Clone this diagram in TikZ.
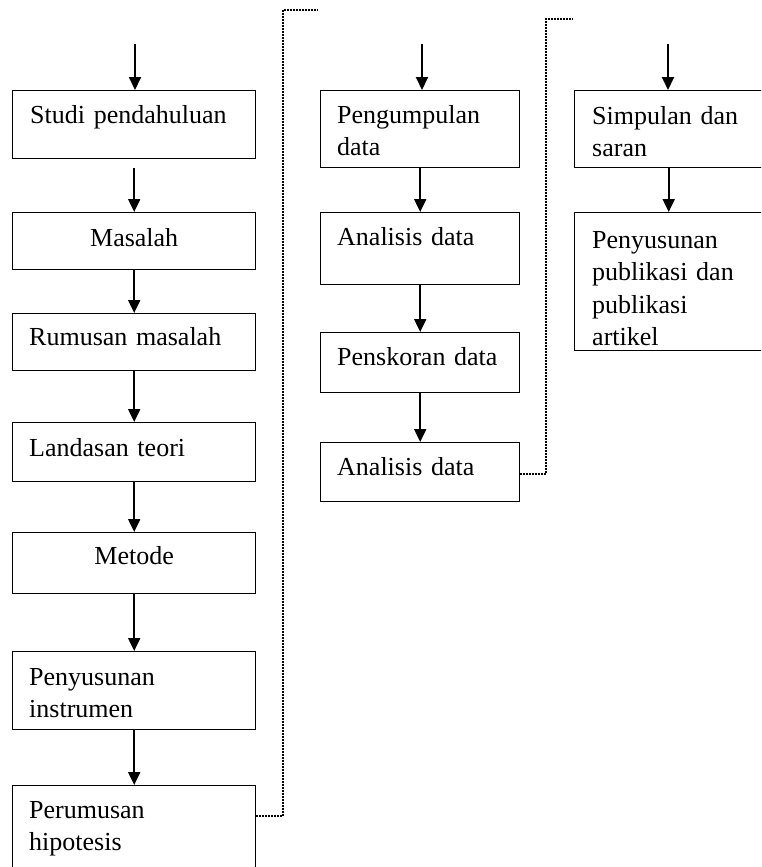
\documentclass[tikz,border=0pt]{standalone}
\usepackage{fontspec}
\setmainfont{Liberation Serif}
\usetikzlibrary{arrows.meta}

\tikzset{
  stagebox/.style={draw, line width=1.4pt, anchor=north west, inner sep=0pt,
    minimum width=#1},
  stagetext/.style={anchor=base west, inner sep=0pt, align=left, text width=230pt},
  midtext/.style={anchor=base, inner sep=0pt, align=center},
  flow/.style={-{Triangle[width=12pt,length=13pt]}, line width=2pt},
  jump/.style={line width=1.5pt, dash pattern=on 1.5pt off 1.5pt}
}

\begin{document}
\begin{tikzpicture}[x=1pt, y=-1pt, font=\fontsize{26}{32.5}\selectfont]
\clip (0,0) rectangle (761,867);
\fill[white] (0,0) rectangle (761,867);

% left column
\node[stagebox=243pt, minimum height=68pt] (studi) at (12,90) {};
\node[stagebox=243pt, minimum height=57pt] (masalah) at (12,212) {};
\node[stagebox=243pt, minimum height=57pt] (rumusan) at (12,313) {};
\node[stagebox=243pt, minimum height=59pt] (landasan) at (12,422) {};
\node[stagebox=243pt, minimum height=61pt] (metode) at (12,532) {};
\node[stagebox=243pt, minimum height=78pt] (instrumen) at (12,651) {};
\node[stagebox=243pt, minimum height=100pt] (hipotesis) at (12,785) {};

\node[stagetext] (studi-t) at ([shift={(18,33)}]studi.north west) {Studi pendahuluan};
\node[midtext] (masalah-t) at ([shift={(0,34)}]masalah.north) {Masalah};
\node[stagetext] (rumusan-t) at ([shift={(17,32)}]rumusan.north west) {Rumusan masalah};
\node[stagetext] (landasan-t) at ([shift={(17,34)}]landasan.north west) {Landasan teori};
\node[midtext] (metode-t) at ([shift={(0,32)}]metode.north) {Metode};
\node[stagetext] (instrumen-t) at ([shift={(17,34)}]instrumen.north west) {Penyusunan\\instrumen};
\node[stagetext] (hipotesis-t) at ([shift={(17,33)}]hipotesis.north west) {Perumusan\\hipotesis};

% middle column
\node[stagebox=199pt, minimum height=77pt] (kumpul) at (320,90) {};
\node[stagebox=199pt, minimum height=72pt] (analisis) at (320,212) {};
\node[stagebox=199pt, minimum height=60pt] (skor) at (320,332) {};
\node[stagebox=199pt, minimum height=59pt] (analisisb) at (320,442) {};

\node[stagetext] (kumpul-t) at ([shift={(17,33)}]kumpul.north west) {Pengumpulan\\data};
\node[stagetext] (analisis-t) at ([shift={(17,33)}]analisis.north west) {Analisis data};
\node[stagetext] (skor-t) at ([shift={(17,33)}]skor.north west) {Penskoran data};
\node[stagetext] (analisisb-t) at ([shift={(17,33)}]analisisb.north west) {Analisis data};

% right column
\node[stagebox=188pt, minimum height=77pt] (simpulan) at (574,90) {};
\node[stagebox=188pt, minimum height=138pt] (publikasi) at (574,212) {};

\node[stagetext] (simpulan-t) at ([shift={(18,34)}]simpulan.north west) {Simpulan dan\\saran};
\node[stagetext] (publikasi-t) at ([shift={(18,36)}]publikasi.north west) {Penyusunan\\publikasi dan\\publikasi\\artikel};

% arrows
\coordinate (in-a) at (135,44);
\coordinate (in-b) at (422,44);
\coordinate (in-c) at (668,44);
\draw[flow] (in-a) -- (in-a |- studi.north);
\draw[flow] (in-b) -- (in-b |- kumpul.north);
\draw[flow] (in-c) -- (in-c |- simpulan.north);

\draw[flow] ([yshift=-9pt]studi.south) -- (masalah.north);
\draw[flow] (masalah.south) -- (rumusan.north);
\draw[flow] (rumusan.south) -- (landasan.north);
\draw[flow] (landasan.south) -- (metode.north);
\draw[flow] (metode.south) -- (instrumen.north);
\draw[flow] (instrumen.south) -- (hipotesis.north);

\draw[flow] (kumpul.south) -- (analisis.north);
\draw[flow] (analisis.south) -- (skor.north);
\draw[flow] (skor.south) -- (analisisb.north);

\draw[flow] (simpulan.south) -- (publikasi.north);

% dotted links to next column
\coordinate (to-b) at (318,10);
\coordinate (to-c) at (573,19);
\draw[jump] ([yshift=-31pt]hipotesis.north east) -| (283,10) -- (to-b);
\draw[jump] ([yshift=-2pt]analisisb.east) -| (546,19) -- (to-c);
\end{tikzpicture}
\end{document}
